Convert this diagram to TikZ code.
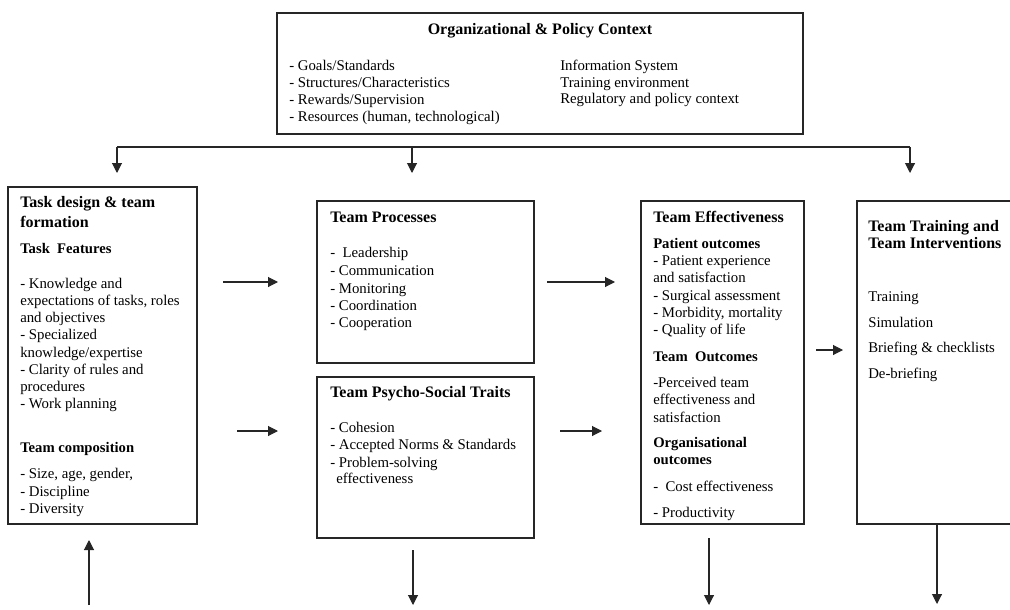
\documentclass[tikz,border=0pt]{standalone}
\usepackage{fontspec}
\setmainfont{Liberation Serif}
\usetikzlibrary{arrows.meta,fit}

\tikzset{
  box/.style={draw=black!85, line width=0.9pt, inner sep=0pt},
  txt/.style={anchor=base west, inner sep=0pt, yshift=-3.4pt, font=\fontsize{11.1}{13}\selectfont},
  head/.style={txt, font=\fontsize{12}{14}\selectfont\bfseries},
  subhead/.style={txt, font=\fontsize{11}{13}\selectfont\bfseries},
  arr/.style={draw=black!85, line width=0.8pt, -{Triangle[length=7.5pt,width=7.5pt]}},
}

\begin{document}
\begin{tikzpicture}[x=0.75pt, y=-0.75pt]
  \clip (0,0) rectangle (1010,610);

  % boxes
  \node[box, fit={(277,13) (803,134)}] (org) {};
  \node[box, fit={(8,187) (197,524)}] (task) {};
  \node[box, fit={(317,201) (534,363)}] (proc) {};
  \node[box, fit={(317,377) (534,538)}] (psy) {};
  \node[box, fit={(641,201) (804,524)}] (eff) {};
  \node[box, fit={(857,201) (1040,524)}] (train) {};

  % organizational context
  \node[head, anchor=base] (orgt) at (540,30) {Organizational \& Policy Context};
  \foreach \t [count=\i from 0] in {{- Goals/Standards},{- Structures/Characteristics},
      {- Rewards/Supervision},{- Resources (human, technological)}}
    \node[txt] (orgl\i) at (289,66+17*\i) {\t};
  \foreach \t [count=\i from 0] in {{Information System},{Training environment},
      {Regulatory and policy context}}
    \node[txt] (orgr\i) at (560,66+16.5*\i) {\t};

  % task design
  \node[head] (taskt1) at (20,203) {Task design \& team};
  \node[head] (taskt2) at (20,223) {formation};
  \node[subhead] (taskf) at (20,249) {Task\ \ Features};
  \foreach \t [count=\i from 0] in {{- Knowledge and},{expectations of tasks, roles},
      {and objectives},{- Specialized},{knowledge/expertise},{- Clarity of rules and},
      {procedures},{- Work planning}}
    \node[txt] (taskl\i) at (20,284+17.15*\i) {\t};
  \node[subhead] (taskc) at (20,448) {Team composition};
  \foreach \t [count=\i from 0] in {{- Size, age, gender,},{- Discipline},{- Diversity}}
    \node[txt] (taskm\i) at (20,474+17.5*\i) {\t};

  % processes
  \node[head] (proct) at (330,218) {Team Processes};
  \node[txt] (procl0) at (330,253) {-\enspace Leadership};
  \foreach \t [count=\i from 1] in {{- Communication},{- Monitoring},
      {- Coordination},{- Cooperation}}
    \node[txt] (procl\i) at (330,254+17.3*\i) {\t};

  % psycho-social
  \node[head] (psyt) at (330,393) {Team Psycho-Social Traits};
  \foreach \t [count=\i from 0] in {{- Cohesion},{- Accepted Norms \& Standards},
      {- Problem-solving}}
    \node[txt] (psyl\i) at (330,428+17.3*\i) {\t};
  \node[txt] (psyl3) at (336,479) {effectiveness};

  % effectiveness
  \node[head] (efft) at (653,218) {Team Effectiveness};
  \node[subhead] (effp) at (653,244) {Patient outcomes};
  \foreach \t [count=\i from 0] in {{- Patient experience},{and satisfaction},
      {- Surgical assessment},{- Morbidity, mortality},{- Quality of life}}
    \node[txt] (effl\i) at (653,261+17.3*\i) {\t};
  \node[subhead] (efft2) at (653,357) {Team\ \ Outcomes};
  \foreach \t [count=\i from 0] in {{-Perceived team},{effectiveness and},{satisfaction}}
    \node[txt] (effm\i) at (653,383+17.3*\i) {\t};
  \node[subhead] (effo1) at (653,443) {Organisational};
  \node[subhead] (effo2) at (653,460) {outcomes};
  \node[txt] (effn0) at (653,487) {-\ \ Cost effectiveness};
  \node[txt] (effn1) at (653,513) {- Productivity};

  % training
  \node[head] (traint1) at (868,227) {Team Training and};
  \node[head] (traint2) at (868,244) {Team Interventions};
  \foreach \t [count=\i from 0] in {{Training},{Simulation},
      {Briefing \& checklists},{De-briefing}}
    \node[txt] (trainl\i) at (868,297+25.7*\i) {\t};

  % connectors
  \coordinate (busL) at (117,147);
  \coordinate (busM) at (412,147);
  \coordinate (busR) at (910,147);
  \draw[draw=black!85, line width=0.8pt] (busL) -- (busR);
  \foreach \c in {busL,busM,busR}
    \draw[arr] (\c) -- ++(0,26);

  \coordinate (upS) at (89,605);
  \coordinate (upE) at (89,540);
  \draw[arr] (upS) -- (upE);

  \coordinate (a1s) at (223,282); \coordinate (a1e) at (278,282);
  \coordinate (a2s) at (237,431); \coordinate (a2e) at (278,431);
  \coordinate (a3s) at (547,282); \coordinate (a3e) at (615,282);
  \coordinate (a4s) at (560,431); \coordinate (a4e) at (602,431);
  \coordinate (a5s) at (816,350); \coordinate (a5e) at (843,350);
  \foreach \i in {1,...,5}
    \draw[arr] (a\i s) -- (a\i e);

  \coordinate (d1s) at (413,550); \coordinate (d1e) at (413,605);
  \coordinate (d2s) at (709,538); \coordinate (d2e) at (709,605);
  \draw[arr] (d1s) -- (d1e);
  \draw[arr] (d2s) -- (d2e);
  \coordinate (trainout) at (937,604);
  \draw[arr] (train.south -| trainout) -- (trainout);
\end{tikzpicture}
\end{document}
